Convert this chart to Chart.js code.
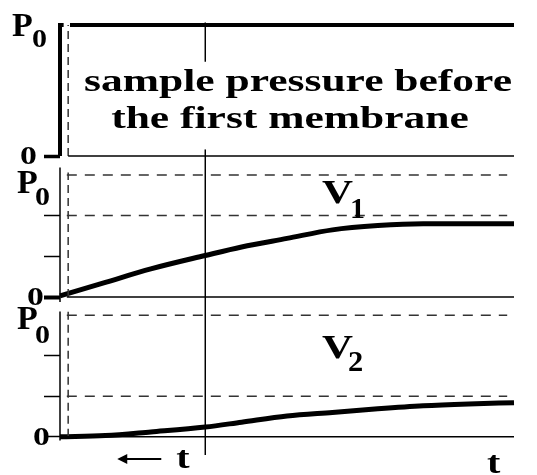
<!DOCTYPE html>
<html>
<head>
<meta charset="utf-8">
<script src="https://cdn.jsdelivr.net/npm/chart.js@4"></script>
<style>
  html, body { margin: 0; padding: 0; background: #fff; }
  canvas { display: block; }
</style>
</head>
<body>
<canvas id="membraneChart" width="537" height="475"></canvas>
<script>
// time axis runs from 0 to t_ss (= 1)
const timeV = [0, 0.1, 0.2, 0.32, 0.4, 0.5, 0.6, 0.7, 0.8, 0.9, 1.0];
const v1Values = [0.01, 0.12, 0.23, 0.34, 0.41, 0.48, 0.55, 0.585, 0.6, 0.6, 0.6];
const v2Values = [0.0, 0.01, 0.04, 0.08, 0.12, 0.17, 0.2, 0.23, 0.255, 0.27, 0.28];

// sample pressure before the first membrane: step up to P0 at t = 0
const stepTime = [0, 0, 0.008, null, 0.022, 1];
const stepValues = [0, 1, 1, null, 1, 1];

const markTime = 0.32;    // the "t" marker line
const delayTime = 0.018;  // dashed vertical
const v1Guides = [1, 2 / 3];
const v2Guides = [1, 1 / 3];

const y1Ticks = [0];
const y2Ticks = [0, 1 / 3, 2 / 3];
const y3Ticks = [0, 1 / 3, 2 / 3];

const pts = (xs, ys) => xs.map((x, i) => (x === null ? { x: null, y: null } : { x: x, y: ys[i] }));
const hLine = (y, from, to) => [{ x: from, y: y }, { x: to, y: y }];
const vLine = (x, from, to) => [{ x: x, y: from }, { x: x, y: to }];

const datasets = [];
const add = (data, axis, width, color, dash) => {
    datasets.push({
        data: data,
        yAxisID: axis,
        borderColor: color || '#000',
        borderWidth: width,
        borderDash: dash || [],
        pointRadius: 0,
        fill: false,
        tension: 0,
        spanGaps: false,
        clip: 6
    });
};

// panel 1
add(pts(stepTime, stepValues), 'y1', 4);
add(hLine(0, delayTime, 1), 'y1', 1.5);
add(vLine(delayTime, 0, 1), 'y1', 1.5, '#333', [8, 5]);
add(vLine(markTime, 0, 1.02), 'y1', 1.5);

// panel 2
add(vLine(0, -0.04, 1.06), 'y2', 1.5);
add(hLine(0, 0.015, 1), 'y2', 1.5);
v1Guides.forEach(g => add(hLine(g, 0.015, 0.985), 'y2', 1.5, '#333', [10, 8]));
add(vLine(delayTime, 0, 1.02), 'y2', 1.5, '#333', [8, 5]);
add(vLine(markTime, 0, 1.155), 'y2', 1.5);
datasets.push({
    data: pts(timeV, v1Values), yAxisID: 'y2', borderColor: '#000', borderWidth: 5,
    pointRadius: 0, fill: false, cubicInterpolationMode: 'monotone', clip: 6
});

// panel 3
add(vLine(0, -0.03, 1.03), 'y3', 1.5);
add(hLine(0, 0.015, 1), 'y3', 1.5);
v2Guides.forEach(g => add(hLine(g, 0.015, 0.985), 'y3', 1.5, '#333', [10, 8]));
add(vLine(delayTime, 0, 1.03), 'y3', 1.5, '#333', [8, 5]);
add(vLine(markTime, -0.15, 1.15), 'y3', 1.5);
datasets.push({
    data: pts(timeV, v2Values), yAxisID: 'y3', borderColor: '#000', borderWidth: 5,
    pointRadius: 0, fill: false, cubicInterpolationMode: 'monotone', clip: 6
});

const panelAxis = (min, max, weight, order, ticks, zeroWidth) => ({
    type: 'linear',
    position: 'left',
    stack: 'panels',
    stackWeight: weight,
    weight: order,
    min: min,
    max: max,
    afterBuildTicks: axis => { axis.ticks = ticks.map(v => ({ value: v })); },
    ticks: { display: false },
    border: { display: false },
    grid: {
        drawOnChartArea: false,
        drawTicks: true,
        tickLength: 16,
        tickColor: '#000',
        tickWidth: c => (c.tick && c.tick.value === 0 ? zeroWidth : 1.5)
    }
});

const serif = size => `bold ${size}px "Liberation Serif", "DejaVu Serif", serif`;
const drawText = (ctx, text, x, y, size, sx, align) => {
    ctx.save();
    ctx.font = serif(size);
    ctx.textAlign = align || 'left';
    ctx.textBaseline = 'alphabetic';
    ctx.translate(x, y);
    ctx.scale(sx, 1);
    ctx.fillText(text, 0, 0);
    ctx.restore();
};

const labelPlugin = {
    id: 'labels',
    afterDatasetsDraw(chart) {
        const ctx = chart.ctx;
        const area = chart.chartArea;
        const s1 = chart.scales.y1, s2 = chart.scales.y2, s3 = chart.scales.y3;
        ctx.save();
        ctx.fillStyle = '#fff';
        const boxTop = s1.getPixelForValue(0.72);
        const boxBottom = s1.getPixelForValue(0.05);
        ctx.fillRect(80, boxTop, area.right - 80, boxBottom - boxTop);
        ctx.fillStyle = '#000';

        drawText(ctx, 'sample pressure before', 298, 91, 32, 1.36, 'center');
        drawText(ctx, 'the first membrane', 290, 128, 32, 1.36, 'center');

        // y labels: P0 and 0
        const p = [[s1, 12, 11, 32, 22], [s2, 17, 18, 35, 30], [s3, 17, 14, 35, 28]];
        p.forEach(([s, x, dy, sxp, dsub]) => {
            const y = s.getPixelForValue(1);
            drawText(ctx, 'P', x, y + dy, 34, 1, 'left');
            drawText(ctx, '0', sxp, y + dsub, 25, 1.2, 'left');
        });
        const z = [[s1, 20], [s2, 27], [s3, 33]];
        z.forEach(([s, x]) => {
            const y = s.getPixelForValue(0);
            drawText(ctx, '0', x, y + 8, 25, 1.35, 'left');
        });

        // curve names
        const top2 = s2.getPixelForValue(1), top3 = s3.getPixelForValue(1);
        drawText(ctx, 'V', 322, top2 + 28, 33, 1.3, 'left');
        drawText(ctx, '1', 350, top2 + 43, 30, 1, 'left');
        drawText(ctx, 'V', 322, top3 + 43, 33, 1.3, 'left');
        drawText(ctx, '2', 348, top3 + 56, 29, 1.05, 'left');

        // time labels
        const xs = chart.scales.x;
        const tx = xs.getPixelForValue(markTime);
        drawText(ctx, 't', tx - 29, 468, 32, 1.25, 'left');
        ctx.strokeStyle = '#000';
        ctx.lineWidth = 2;
        ctx.beginPath();
        ctx.moveTo(tx - 44, 459);
        ctx.lineTo(tx - 84, 459);
        ctx.stroke();
        ctx.beginPath();
        ctx.moveTo(tx - 88, 459);
        ctx.lineTo(tx - 78, 454);
        ctx.lineTo(tx - 78, 464);
        ctx.closePath();
        ctx.fill();
        drawText(ctx, 't', 487, 473, 32, 1.25, 'left');
        drawText(ctx, 'ss', 512, 486, 20, 1.2, 'left');
        ctx.restore();
    }
};

new Chart(document.getElementById('membraneChart'), {
    type: 'line',
    data: { datasets: datasets },
    options: {
        responsive: false,
        animation: false,
        devicePixelRatio: 1,
        layout: { padding: { left: 44, right: 23, top: 12, bottom: 20 } },
        plugins: { legend: { display: false }, tooltip: { enabled: false } },
        scales: {
            x: { type: 'linear', min: 0, max: 1, display: false },
            y1: panelAxis(0, 1.1, 144, 3, y1Ticks, 3.5),
            y2: panelAxis(0, 1.155, 141, 2, y2Ticks, 4),
            y3: panelAxis(-0.15, 1.15, 158, 1, y3Ticks, 1.5)
        }
    },
    plugins: [labelPlugin]
});
</script>
</body>
</html>
